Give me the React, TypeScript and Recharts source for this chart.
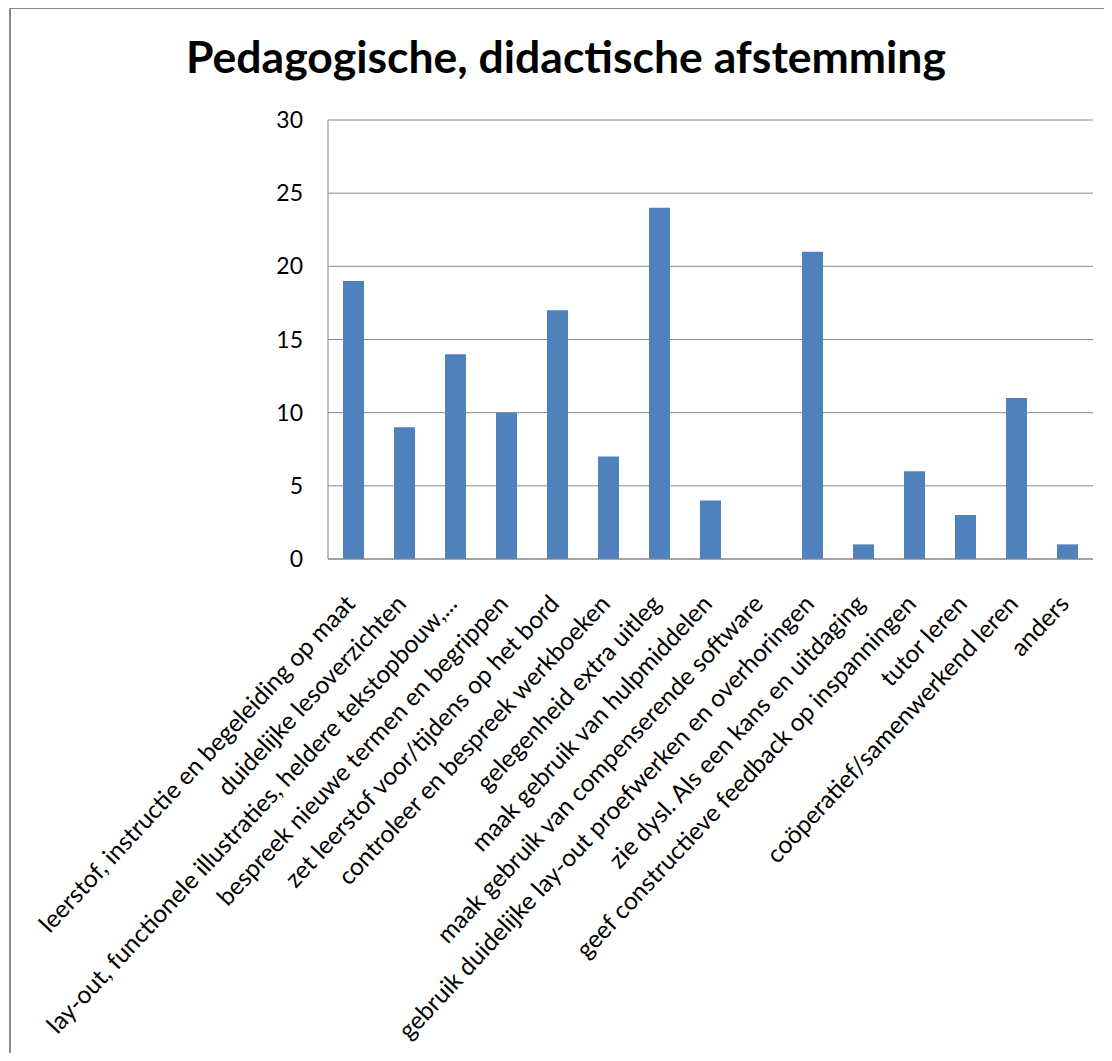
import React from 'react';
import { BarChart, Bar, XAxis, YAxis, CartesianGrid } from 'recharts';

const categories = [
    'leerstof, instructie en begeleiding op maat',
    'duidelijke lesoverzichten',
    'lay-out, functionele illustraties, heldere tekstopbouw,...',
    'bespreek nieuwe termen en begrippen',
    'zet leerstof voor/tijdens op het bord',
    'controleer en bespreek werkboeken',
    'gelegenheid extra uitleg',
    'maak gebruik van hulpmiddelen',
    'maak gebruik van compenserende software',
    'gebruik duidelijke lay-out proefwerken en overhoringen',
    'zie dysl. Als een kans en uitdaging',
    'geef constructieve feedback op inspanningen',
    'tutor leren',
    'coöperatief/samenwerkend leren',
    'anders',
];

const counts = [19, 9, 14, 10, 17, 7, 24, 4, 0, 21, 1, 6, 3, 11, 1];

const yTicks = [0, 5, 10, 15, 20, 25, 30];

const data = categories.map((name, i) => ({ name, value: counts[i] }));

const FONT = 'Lato, "Open Sans", sans-serif';

const XTick = ({ x, y, payload }: any) => {
    const ax = x + 3;
    const ay = y + 38;
    return (
        <text
            x={ax}
            y={ay}
            transform={`rotate(-47, ${ax}, ${ay})`}
            textAnchor="end"
            fontSize={24.5}
            fontFamily={FONT}
            fill="#000"
        >
            {payload.value}
        </text>
    );
};

const App: React.FC = () => {
    return (
        <div
            style={{
                position: 'relative',
                margin: -8,
                width: 1112,
                height: 1061,
                overflow: 'hidden',
                background: '#fff',
                fontFamily: FONT,
            }}
        >
            <div
                style={{
                    position: 'absolute',
                    left: 9,
                    top: 7,
                    width: 1300,
                    height: 1300,
                    border: '2px solid #8a8a8a',
                }}
            />
            <svg width={1112} height={110} style={{ position: 'absolute', left: 0, top: 0 }}>
                <text x={566} y={73} textAnchor="middle" fontSize={44.5} fontWeight="bold" fontFamily={FONT} fill="#000">
                    Pedagogische, didactische afstemming
                </text>
            </svg>
            <div style={{ position: 'absolute', left: 0, top: 0 }}>
                <BarChart
                    width={1112}
                    height={1061}
                    data={data}
                    margin={{ top: 120, right: 19, left: 268, bottom: 0 }}
                >
                    <CartesianGrid vertical={false} stroke="#868686" strokeWidth={1} />
                    <XAxis
                        dataKey="name"
                        interval={0}
                        height={502}
                        tick={<XTick />}
                        tickLine={false}
                        axisLine={{ stroke: '#868686' }}
                    />
                    <YAxis
                        width={60}
                        domain={[0, 30]}
                        ticks={yTicks}
                        tickLine={false}
                        tickMargin={19}
                        axisLine={{ stroke: '#868686' }}
                        tick={{ fill: '#000', fontSize: 23, fontFamily: FONT }}
                    />
                    <Bar dataKey="value" fill="#4f81bd" barSize={21} isAnimationActive={false} />
                </BarChart>
            </div>
        </div>
    );
};

export default App;
